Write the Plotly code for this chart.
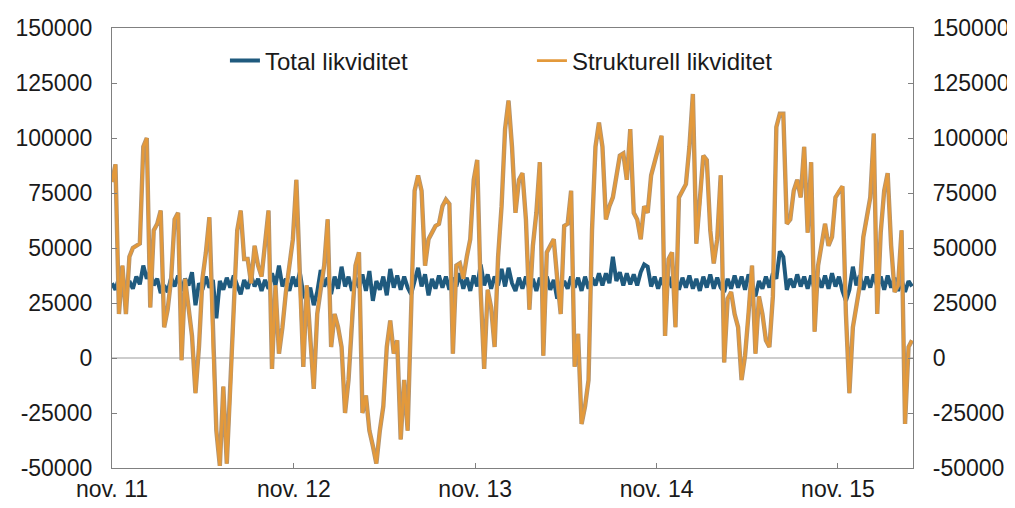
import pandas as pd
import plotly.graph_objects as go

# Weekly observations, starting 1 Nov 2011
start_date = "2011-11-01"

total_likviditet = [
    34000, 31000, 36500, 32000, 30500, 35000, 31500, 37000, 33500, 42000,
    36000, 39500, 33000, 36000, 29500, 33000, 30000, 36500, 32500, 37500,
    30500, 36000, 33000, 39000, 24000, 34000, 31000, 37000, 32000, 35500,
    18000, 35000, 31000, 36500, 32000, 37500, 33000, 29000, 35500,
    31500, 37500, 32500, 36000, 30500, 35500, 31500, 38500, 33000, 42000,
    32500, 36000, 30500, 37000, 32500, 39000, 29000, 26000, 32000, 24000,
    30000, 40000, 32500, 36500, 29000, 37000, 31500, 41500, 32500, 37000,
    30500, 36500, 32000, 38000, 30500, 39500, 26000, 35000,
    31000, 37000, 28500, 40500, 32000, 37500, 31000, 37000, 32000, 29000,
    36000, 41000, 32500, 38000, 28500, 36000, 31500, 37500, 32000, 37000,
    31000, 36500, 32500, 38500, 31500, 36500, 30500, 37500, 32500, 42500,
    33000, 38000, 31500, 37000, 33000, 40500, 32500, 41000, 34000,
    30500, 36500, 31500, 37000, 31000, 36000, 30500, 36500, 32000, 37000,
    31000, 35500, 27000, 31000, 35000, 31500, 37000, 32000, 36500, 30500,
    37000, 31500, 36500, 33000, 38500, 33000, 38500, 34000, 46000, 35000,
    39000, 33000, 38500, 33500, 38000, 33000, 39000, 42500,
    41500, 32500, 37000, 31500, 36500, 31000, 37000, 32000, 37000, 31000,
    36500, 32000, 37500, 31500, 36000, 30500, 37000, 32000, 38000, 31500,
    36500, 32000, 30000, 36000, 31500, 37500, 32000, 37000, 31000, 38000,
    32500, 28000, 35000, 31500, 37000, 32000, 38500, 36000, 48500,
    46000, 31000, 36000, 32000, 38000, 32500, 37000, 31500, 37500, 31000,
    36500, 32000, 37500, 31500, 38500, 32500, 37000, 30500, 26000, 31000,
    41500, 33000, 37500, 31000, 37000, 32000, 38000, 32500, 37000, 31000,
    37500, 32000, 36500, 30500, 35500, 30000, 35000, 32500,
]

strukturell_likviditet = [
    80000, 88000, 20000, 42000, 20000, 46000, 50000, 51000, 52000, 96000,
    100000, 23000, 58000, 61000, 67000, 14000, 22000, 36000, 63000, 66000,
    -1000, 36000, 22000, 10000, -16000, 5000, 36000, 48000, 64000, 7000,
    -33000, -49000, -13000, -48000, -16000, 20000, 58000, 67000, 45000,
    45000, 34000, 51000, 42000, 37000, 52000, 67000, -5000, 33000, 2000, 14000,
    30000, 43000, 54000, 81000, 33000, -4000, 33000, 8000, -14000, 20000,
    33000, 42000, 63000, 5000, 20000, 14000, 5000, -25000, -10000, 20000,
    42000, 48000, -25000, -17000, -33000, -40000, -48000,
    -33000, -22000, 5000, 17000, 2000, 8000, -37000, -10000, -33000, 20000,
    76000, 83000, 76000, 42000, 54000, 57000, 60000, 61000, 69000, 72000,
    70000, 2000, 42000, 43000, 36000, 46000, 54000, 81000, 90000, 30000,
    -5000, 31000, 23000, 5000, 46000, 69000, 104000, 117000, 96000,
    66000, 81000, 84000, 63000, 22000, 51000, 66000, 89000, 1000, 48000,
    51000, 54000, 36000, 20000, 60000, 61000, 76000, -4000, 11000, -30000,
    -22000, -10000, 58000, 96000, 107000, 96000, 63000, 69000, 73000, 83000,
    92000, 93000, 81000, 104000, 66000, 63000, 54000, 69000,
    66000, 83000, 89000, 96000, 101000, 10000, 45000, 48000, 14000, 73000,
    76000, 79000, 96000, 120000, 52000, 70000, 92000, 90000, 58000, 43000,
    54000, 83000, -2000, 27000, 30000, 20000, 14000, -10000, 1000, 20000,
    42000, 2000, 28000, 20000, 8000, 5000, 28000, 105000, 111000,
    111000, 61000, 63000, 76000, 81000, 73000, 96000, 57000, 89000, 12000,
    42000, 51000, 61000, 51000, 55000, 73000, 76000, 78000, 20000, -16000,
    14000, 23000, 33000, 55000, 63000, 73000, 102000, 20000, 57000, 76000,
    84000, 51000, 30000, 33000, 58000, -30000, 5000, 8000,
]

tick_dates = ["2011-11-01", "2012-11-01", "2013-11-01", "2014-11-01", "2015-11-01"]
tick_labels = ["nov. 11", "nov. 12", "nov. 13", "nov. 14", "nov. 15"]
y_ticks = [-50000, -25000, 0, 25000, 50000, 75000, 100000, 125000, 150000]
y_tick_labels = [str(v) for v in y_ticks]

n = min(len(total_likviditet), len(strukturell_likviditet))
dates = pd.date_range(start_date, periods=n, freq="7D")

BLUE = "#1f5a7e"
ORANGE = "#e3993b"
FONT = "Liberation Sans, Arial, sans-serif"

fig = go.Figure()
fig.add_trace(go.Scatter(
    x=dates, y=total_likviditet[:n], mode="lines", name="Total likviditet",
    line=dict(color=BLUE, width=4), hoverinfo="skip"))
fig.add_trace(go.Scatter(
    x=dates, y=strukturell_likviditet[:n], mode="lines", showlegend=False,
    line=dict(color="#b09474", width=4.4), hoverinfo="skip"))
fig.add_trace(go.Scatter(
    x=dates, y=strukturell_likviditet[:n], mode="lines", name="Strukturell likviditet",
    line=dict(color=ORANGE, width=2.8), hoverinfo="skip"))
# invisible trace to activate the right-hand axis
fig.add_trace(go.Scatter(
    x=dates, y=strukturell_likviditet[:n], mode="lines", yaxis="y2",
    showlegend=False, line=dict(width=0), opacity=0, hoverinfo="skip"))

axis_common = dict(
    range=[-50000, 150000], tickvals=y_ticks, ticktext=y_tick_labels,
    ticks="inside", ticklen=5, automargin=False,
    tickcolor="#808080", showgrid=False, zeroline=False, showline=True,
    linecolor="#808080", linewidth=1.3,
    tickfont=dict(family=FONT, size=23, color="#1a1a1a"),
)

# the page places the figure 8 px from the window's top-left corner
fig.update_layout(
    width=1007, height=500,
    margin=dict(l=104, r=102, t=20, b=40),
    paper_bgcolor="white", plot_bgcolor="white",
    showlegend=True,
    legend=dict(
        orientation="h", x=0.141, y=0.925, xanchor="left", yanchor="middle",
        font=dict(family=FONT, size=24, color="#1a1a1a"),
        bgcolor="rgba(0,0,0,0)", entrywidth=262, entrywidthmode="pixels",
        itemwidth=30,
    ),
    xaxis=dict(
        type="date", range=["2011-11-01", "2016-03-31"],
        tickvals=tick_dates, ticktext=tick_labels, automargin=False,
        ticks="inside", ticklen=5, tickcolor="#808080",
        showgrid=False, zeroline=False, showline=True, mirror=True,
        linecolor="#808080", linewidth=1.3,
        tickfont=dict(family=FONT, size=23, color="#1a1a1a"),
    ),
    yaxis=dict(side="left", ticklabelstandoff=14, **axis_common),
    yaxis2=dict(side="right", overlaying="y", ticklabelstandoff=14, **axis_common),
    shapes=[dict(type="line", xref="paper", x0=0, x1=1, yref="y", y0=0, y1=0,
                 line=dict(color="#bdbdbd", width=1.5), layer="below")],
)

fig.write_html("out.html")
